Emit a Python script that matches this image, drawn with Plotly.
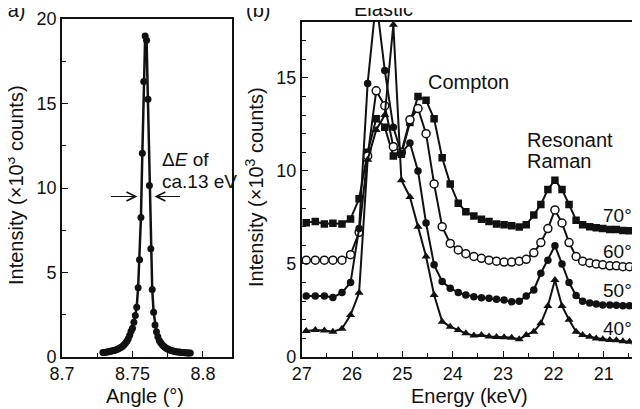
import plotly.graph_objects as go

# ---------------- data: panel (a) ----------------
angle = [8.729, 8.730, 8.731, 8.732, 8.733, 8.734, 8.735, 8.736, 8.737, 8.738,
         8.739, 8.740, 8.741, 8.742, 8.743, 8.744, 8.745, 8.746, 8.747, 8.748,
         8.749, 8.750, 8.751, 8.752, 8.753, 8.754, 8.755, 8.756, 8.757, 8.758,
         8.759, 8.760, 8.761, 8.762, 8.763, 8.764, 8.765, 8.766, 8.767, 8.768,
         8.769, 8.770, 8.771, 8.772, 8.773, 8.774, 8.775, 8.776, 8.777, 8.778,
         8.779, 8.780, 8.781, 8.782, 8.783, 8.784, 8.785, 8.786, 8.787, 8.788,
         8.789, 8.790, 8.791]
intensity_a = [0.26, 0.27, 0.28, 0.29, 0.31, 0.33, 0.35, 0.37, 0.39, 0.42,
               0.45, 0.49, 0.53, 0.58, 0.64, 0.72, 0.81, 0.93, 1.08, 1.28,
               1.52, 1.70, 2.05, 2.45, 2.95, 4.10, 5.75, 8.25, 12.05, 16.30,
               19.00, 18.75, 15.25, 10.15, 6.40, 4.00, 2.65, 1.90, 1.50, 1.20,
               0.98, 0.85, 0.74, 0.65, 0.58, 0.52, 0.47, 0.43, 0.40, 0.37,
               0.35, 0.33, 0.31, 0.30, 0.29, 0.28, 0.27, 0.26, 0.25, 0.25,
               0.24, 0.24, 0.23]

# ---------------- data: panel (b) ----------------
energy = [26.91, 26.73, 26.55, 26.38, 26.20, 26.03, 25.86, 25.69, 25.52, 25.35,
          25.18, 25.02, 24.85, 24.69, 24.53, 24.37, 24.21, 24.05, 23.89, 23.74,
          23.58, 23.43, 23.28, 23.13, 22.98, 22.83, 22.68, 22.54, 22.39, 22.25,
          22.11, 21.97, 21.83, 21.69, 21.55, 21.42, 21.28, 21.15, 21.02, 20.88,
          20.75, 20.62, 20.49, 20.36]
i70 = [7.22, 7.28, 7.15, 7.18, 7.15, 7.42, 8.5, 11.0, 12.8, 12.35,
       10.8, 10.9, 12.6, 14.0, 13.8, 12.8, 10.7, 9.3, 8.26, 7.81,
       7.58, 7.40, 7.28, 7.15, 7.10, 7.05, 6.98, 7.1, 7.63, 8.2,
       9.0, 9.5, 9.0, 8.2, 7.35, 7.1, 7.0, 6.95, 6.9, 6.85,
       6.85, 6.8, 6.78, 6.75]
i60 = [5.2, 5.2, 5.2, 5.2, 5.2, 5.5, 6.7, 10.8, 14.3, 13.5,
       11.3, 11.0, 12.75, 13.35, 12.0, 9.3, 7.0, 6.1, 5.75, 5.55,
       5.4, 5.3, 5.2, 5.15, 5.1, 5.1, 5.15, 5.25, 5.6, 6.15,
       6.9, 7.9, 7.2, 6.15, 5.4, 5.15, 5.05, 5.0, 4.95, 4.9,
       4.9, 4.85, 4.85, 4.8]
i50 = [3.28, 3.28, 3.28, 3.2, 3.46, 4.0, 6.9, 14.7, 19.2, 15.4,
       12.35, 10.95, 11.5, 10.0, 7.2, 4.95, 4.05, 3.7, 3.46, 3.33,
       3.24, 3.19, 3.15, 3.1, 3.06, 2.97, 3.0, 3.28, 3.6, 4.5,
       5.2, 5.98, 5.0, 4.0, 3.3, 3.0, 2.9, 2.85, 2.8, 2.8,
       2.78, 2.75, 2.75, 2.72]
i40 = [1.40, 1.45, 1.42, 1.36, 1.52, 2.25, 3.45, 10.6, 12.2, 13.0,
       17.85, 9.5, 8.6, 7.0, 5.4, 3.33, 1.9, 1.63, 1.45, 1.27,
       1.15, 1.18, 1.1, 1.08, 1.06, 1.04, 0.95, 1.18, 1.36, 1.81,
       2.74, 4.14, 2.74, 2.0, 1.36, 1.18, 1.09, 1.0, 0.95, 0.92,
       0.9, 0.85, 0.82, 0.77]

series = [("70°", i70, "square"), ("60°", i60, "circle-open"),
          ("50°", i50, "circle"), ("40°", i40, "triangle-up")]

# The page body keeps an 8 px margin, so the figure is drawn 8 px in from the
# window's top-left corner; layout positions below are given in window pixels.
OFF = 8
W, H = 640 - OFF, 409 - OFF
FONT = "Liberation Sans, Arial, sans-serif"
INK = "#111111"


def px(x):
    return (x - OFF) / W


def py(y):
    return 1 - (y - OFF) / H


fig = go.Figure()

fig.add_trace(go.Scatter(
    x=angle, y=intensity_a, mode="lines+markers", xaxis="x", yaxis="y",
    line=dict(color=INK, width=2.5),
    marker=dict(symbol="circle", size=7, color=INK),
    showlegend=False, cliponaxis=True))

for name, vals, sym in series:
    if sym == "circle-open":
        mk = dict(symbol="circle", size=8, color="white",
                  line=dict(color=INK, width=1.5))
    elif sym == "triangle-up":
        mk = dict(symbol="triangle-up", size=8, color=INK)
    else:
        mk = dict(symbol=sym, size=7.5, color=INK)
    fig.add_trace(go.Scatter(
        x=energy, y=vals, mode="lines+markers", xaxis="x2", yaxis="y2",
        name=name, line=dict(color=INK, width=2), marker=mk,
        showlegend=False, cliponaxis=True))

axis_common = dict(showline=True, linecolor=INK, linewidth=1.6, mirror=True,
                   ticks="inside", ticklen=6, tickwidth=1.3, tickcolor=INK,
                   showgrid=False, zeroline=False, automargin=False,
                   tickfont=dict(family=FONT, size=18, color=INK))

fig.update_layout(
    template="none",
    width=W, height=H, autosize=False,
    margin=dict(l=0, r=0, t=0, b=0, pad=0, autoexpand=False),
    paper_bgcolor="white", plot_bgcolor="white",
    xaxis=dict(domain=[px(62), px(232)], range=[8.7, 8.8206],
               tickvals=[8.7, 8.75, 8.8], ticktext=["8.7", "8.75", "8.8"],
               minor=dict(tickvals=[8.725, 8.775], ticks="inside", ticklen=4,
                          tickcolor=INK, tickwidth=1.2),
               anchor="y", **axis_common),
    yaxis=dict(domain=[py(357), py(19)], range=[0, 20],
               tickvals=[0, 5, 10, 15, 20],
               minor=dict(dtick=2.5, ticks="inside", ticklen=4,
                          tickcolor=INK, tickwidth=1.2),
               anchor="x", **axis_common),
    xaxis2=dict(domain=[px(301.7), px(636)], range=[27, 20.36],
                tickvals=[27, 26, 25, 24, 23, 22, 21],
                minor=dict(dtick=0.5, ticks="inside", ticklen=4,
                           tickcolor=INK, tickwidth=1.2),
                anchor="y2", **axis_common),
    yaxis2=dict(domain=[py(357), py(22)], range=[0, 18.0],
                tickvals=[0, 5, 10, 15],
                minor=dict(dtick=1, ticks="inside", ticklen=4,
                           tickcolor=INK, tickwidth=1.2),
                anchor="x2", **axis_common),
)


def label(text, x, y, size=20, xanchor="center", angle=0):
    fig.add_annotation(text=text, x=px(x), y=py(y), xref="paper", yref="paper",
                       showarrow=False, xanchor=xanchor, yanchor="middle",
                       textangle=angle,
                       font=dict(family=FONT, size=size, color=INK))


label("(a)", 13, 10)
label("(b)", 258, 10)
label("Angle (°)", 145, 396)
label("Energy (keV)", 469, 396)
label("Intensity (×10<sup>3</sup> counts)", 15, 185, angle=-90)
label("Intensity (×10<sup>3</sup> counts)", 254, 187, angle=-90)
label("Δ<i>E</i> of", 160, 160, size=19, xanchor="left")
label("ca.13 eV", 160, 181, size=19, xanchor="left")
label("Elastic", 383, 9)
label("Compton", 468, 82)
label("Resonant", 525, 140, xanchor="left")
label("Raman", 525, 161, xanchor="left")
label("70°", 617, 215, size=19)
label("60°", 617, 252, size=19)
label("50°", 617, 290, size=19)
label("40°", 617, 328, size=19)

# FWHM arrows (heads at half maximum)
for head_x, off in [(8.7535, -28), (8.7656, 27)]:
    fig.add_annotation(x=head_x, y=9.5, xref="x", yref="y", ax=off, ay=0,
                       axref="pixel", ayref="pixel", text="", showarrow=True,
                       arrowhead=5, arrowsize=1.6, arrowwidth=1.1,
                       arrowcolor=INK)

fig.write_html("out.html")
